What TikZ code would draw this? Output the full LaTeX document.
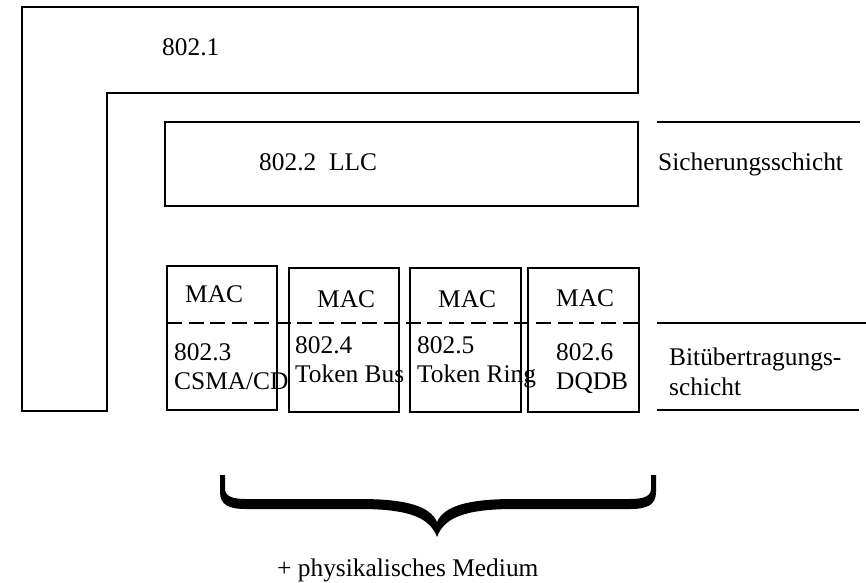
\documentclass[tikz,border=0pt]{standalone}
\usepackage{fontspec}
\setmainfont{Liberation Serif}
\tikzset{
  lbl/.style={anchor=base west,inner sep=0pt},
  ln/.style={line width=1.6pt},
}
\begin{document}
\begin{tikzpicture}[x=1pt,y=-1pt,font=\fontsize{25.4pt}{29pt}\selectfont]
\useasboundingbox (0,0) rectangle (866,582);
% 802.1 and LLC
\draw[ln] (22,411) -- (22,7) -- (638,7) -- (638,93) -- (107,93) -- (107,411) -- cycle;
\node[lbl] (dot1) at (162,55) {802.1};
\draw[ln] (165,122) rectangle (638,206);
\node[lbl] (llc) at (259,170) {802.2\ \ LLC};
% MAC boxes
\foreach \i/\l/\t/\r/\b in {1/167/266/277/410,2/289/268/399/412,3/410/268/521/412,4/528/268/639/412} {
  \draw[ln] (\l,\t) rectangle (\r,\b);
}
\draw[ln,dash pattern=on 15pt off 6.7pt] (167,323) -- (642,323);
\foreach \i/\mx/\my/\nx/\ny/\num/\name in {3/185/302/174/360/802.3/CSMA\slash CD,4/317/307/295/353/802.4/Token Bus,5/438/307/417/353/802.5/Token Ring,6/556/306/556/360/802.6/DQDB} {
  \node[lbl] (mac\i) at (\mx,\my) {MAC};
  \node[lbl] (num\i) at (\nx,\ny) {\num};
  \node[lbl] (name\i) at (\nx,\ny+29) {\name};
}
% layers
\draw[ln] (657,122) -- (860,122);
\draw[ln] (657,323) -- (866,323);
\draw[ln] (657,410) -- (859,410);
\node[lbl] (sich) at (658,170) {Sicherungsschicht};
\node[lbl] (bit1) at (669,365) {Bitübertragungs-};
\node[lbl] (bit2) at (669,395) {schicht};
% brace
\fill (220,475) -- (220,492) .. controls (220,505) and (229,509) .. (246,509) -- (360,509)
  .. controls (410,509) and (430,518) .. (437,537) .. controls (444,518) and (464,509) .. (514,509)
  -- (630,509) .. controls (647,509) and (656,505) .. (656,492) -- (656,475) -- (651,475)
  -- (651,489) .. controls (651,496) and (644,499) .. (630,499) -- (514,499)
  .. controls (468,499) and (444,506) .. (437,522) .. controls (430,506) and (406,499) .. (360,499)
  -- (246,499) .. controls (232,499) and (225,496) .. (225,489) -- (225,475) -- cycle;
\node[lbl] (medium) at (277,576) {+ physikalisches Medium};
\end{tikzpicture}
\end{document}
